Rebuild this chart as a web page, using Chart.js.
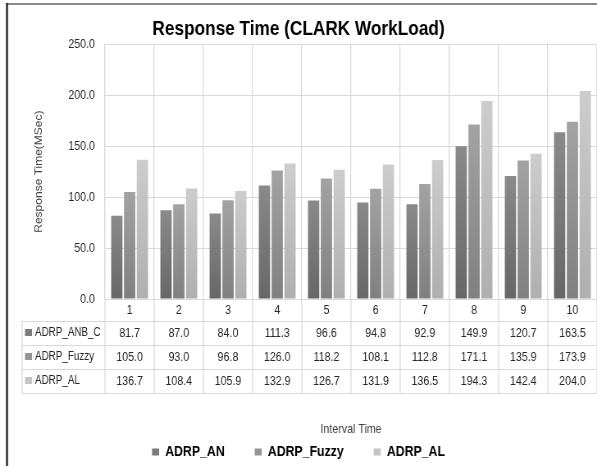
<!DOCTYPE html>
<html>
<head>
<meta charset="utf-8">
<script src="https://cdn.jsdelivr.net/npm/chart.js@4.4.1/dist/chart.umd.min.js"></script>
<style>
  html, body { margin: 0; padding: 0; background: #ffffff; overflow: hidden; }
  /* the chart is laid out on a wider canvas and condensed horizontally */
  #wrap { position: absolute; left: 0; top: 0; width: 728px; height: 466px;
          transform: scaleX(0.8201); transform-origin: 0 0; }
</style>
</head>
<body>
<div id="wrap"><canvas id="chart" width="728" height="466"></canvas></div>
<script>
// Interval categories and measured response times (ms)
const intervals = ['1', '2', '3', '4', '5', '6', '7', '8', '9', '10'];
const legendNames = ['ADRP_AN', 'ADRP_Fuzzy', 'ADRP_AL'];
const tableNames = ['ADRP_ANB_C', 'ADRP_Fuzzy', 'ADRP_AL'];
const adrpAn = [81.7, 87.0, 84.0, 111.3, 96.6, 94.8, 92.9, 149.9, 120.7, 163.5];
const adrpFuzzy = [105.0, 93.0, 96.8, 126.0, 118.2, 108.1, 112.8, 171.1, 135.9, 173.9];
const adrpAl = [136.7, 108.4, 105.9, 132.9, 126.7, 131.9, 136.5, 194.3, 142.4, 204.0];
const yMin = 0, yMax = 250, yStep = 50;

const seriesValues = [adrpAn, adrpFuzzy, adrpAl];

// Horizontal condensing factor applied by the wrapper
const K = 0.8201;
const FONT = "'Liberation Sans', Arial, sans-serif";
const shades = [['#676767', '#8a8a8a'], ['#808080', '#a3a3a3'], ['#afafaf', '#cdcdcd']];
const keyColors = ['#7a7a7a', '#959595', '#c4c4c4'];
const gridColor = '#d9d9d9';

// Vertical gradient per bar, darker at the base
function barFill(i) {
  return (c) => {
    const chart = c.chart;
    const y = chart.scales.y;
    if (!chart.chartArea || !y || c.raw === undefined) return shades[i][1];
    const base = y.getPixelForValue(0);
    const top = y.getPixelForValue(c.raw);
    const g = chart.ctx.createLinearGradient(0, base, 0, top);
    g.addColorStop(0, shades[i][0]);
    g.addColorStop(1, shades[i][1]);
    return g;
  };
}

// Outer frame lines
const framePlugin = {
  id: 'frame',
  beforeDraw(chart) {
    const ctx = chart.ctx;
    ctx.save();
    ctx.fillStyle = '#ffffff';
    ctx.fillRect(0, 0, chart.width, chart.height);
    ctx.strokeStyle = '#8c8c8c';
    ctx.lineWidth = 2;
    ctx.beginPath(); ctx.moveTo(6 / K, 4); ctx.lineTo(chart.width, 4); ctx.stroke();
    ctx.strokeStyle = '#2a2a2a';
    ctx.lineWidth = 2 / K;
    ctx.beginPath(); ctx.moveTo(7 / K, 3); ctx.lineTo(7 / K, chart.height); ctx.stroke();
    ctx.restore();
  }
};

// Data table under the category axis, columns aligned to the x scale
const tablePlugin = {
  id: 'dataTable',
  afterDraw(chart) {
    const { ctx, chartArea } = chart;
    const x = chart.scales.x;
    const n = intervals.length;
    const colW = (x.right - x.left) / n;
    const axisY = chartArea.bottom;
    const labelRowH = 22, rowH = 24;
    const tTop = axisY + labelRowH;
    const tBottom = tTop + rowH * seriesValues.length;
    const tLeft = 22 / K;

    ctx.save();
    ctx.strokeStyle = gridColor;
    const line = (x1, y1, x2, y2) => { ctx.beginPath(); ctx.moveTo(x1, y1); ctx.lineTo(x2, y2); ctx.stroke(); };

    ctx.lineWidth = 1 / K;
    for (let i = 0; i <= n; i++) {
      const xx = x.getPixelForValue(i) - colW / 2;
      line(xx, axisY, xx, tBottom);
    }
    line(tLeft, tTop, tLeft, tBottom);
    ctx.lineWidth = 1;
    for (let r = 0; r <= seriesValues.length; r++) {
      const yy = Math.round(tTop + r * rowH) + 0.5;
      line(tLeft, yy, x.right, yy);
    }

    ctx.textBaseline = 'middle';
    seriesValues.forEach((vals, r) => {
      const cy = tTop + r * rowH + rowH / 2;
      // series key + row name
      ctx.fillStyle = keyColors[r];
      ctx.fillRect(25 / K, Math.round(cy - 4), 7 / K, 7);
      ctx.fillStyle = '#262626';
      ctx.textAlign = 'left';
      ctx.font = '12px ' + FONT;
      ctx.fillText(tableNames[r], 35 / K, cy);
      // values
      ctx.textAlign = 'center';
      ctx.font = '13px ' + FONT;
      vals.forEach((v, i) => {
        ctx.fillText(v.toFixed(1), x.getPixelForValue(i), cy);
      });
    });
    ctx.restore();
  }
};

new Chart(document.getElementById('chart'), {
  type: 'bar',
  data: {
    labels: intervals,
    datasets: seriesValues.map((vals, i) => ({
      label: legendNames[i],
      data: vals,
      backgroundColor: barFill(i),
      borderWidth: 0,
      categoryPercentage: 0.78,
      barPercentage: 0.88
    }))
  },
  options: {
    responsive: false,
    animation: false,
    devicePixelRatio: 1,
    layout: { padding: { left: 0, right: 0, top: 0, bottom: -3.5 } },
    plugins: {
      title: {
        display: true,
        text: 'Response Time (CLARK WorkLoad)',
        color: '#000000',
        font: { family: FONT, size: 21, weight: 'bold' },
        padding: { top: 17, bottom: 2 }
      },
      legend: {
        position: 'bottom',
        labels: {
          color: '#000000',
          font: { family: FONT, size: 15, weight: 'bold' },
          boxWidth: 7 / K,
          boxHeight: 7,
          padding: 36.6,
          generateLabels(chart) {
            const items = Chart.defaults.plugins.legend.labels.generateLabels(chart);
            items.forEach((it, i) => {
              it.fillStyle = keyColors[i];
              it.strokeStyle = keyColors[i];
              it.lineWidth = 0;
            });
            return items;
          }
        }
      },
      tooltip: { enabled: false }
    },
    scales: {
      x: {
        grid: { color: gridColor, lineWidth: 1 / K, drawTicks: false, offset: true },
        border: { display: true, color: gridColor },
        ticks: { color: '#262626', font: { family: FONT, size: 13 }, padding: 4 },
        title: {
          display: true,
          text: 'Interval Time',
          color: '#404040',
          font: { family: FONT, size: 13 },
          padding: { top: 0, bottom: -28.9 }
        },
        afterFit(s) { s.height = 108.9; }
      },
      y: {
        min: yMin,
        max: yMax,
        grid: { color: gridColor, drawTicks: false },
        border: { display: true, color: gridColor, width: 1 / K },
        ticks: {
          stepSize: yStep,
          color: '#262626',
          font: { family: FONT, size: 13 },
          padding: 10 / K,
          callback: (v) => Number(v).toFixed(1)
        },
        title: {
          display: true,
          text: 'Response Time(MSec)',
          color: '#404040',
          font: { family: FONT, size: 12 },
          padding: { top: 40.4, bottom: 0 }
        },
        afterFit(s) { s.width = 105 / K; }
      }
    }
  },
  plugins: [framePlugin, tablePlugin]
});
</script>
</body>
</html>
